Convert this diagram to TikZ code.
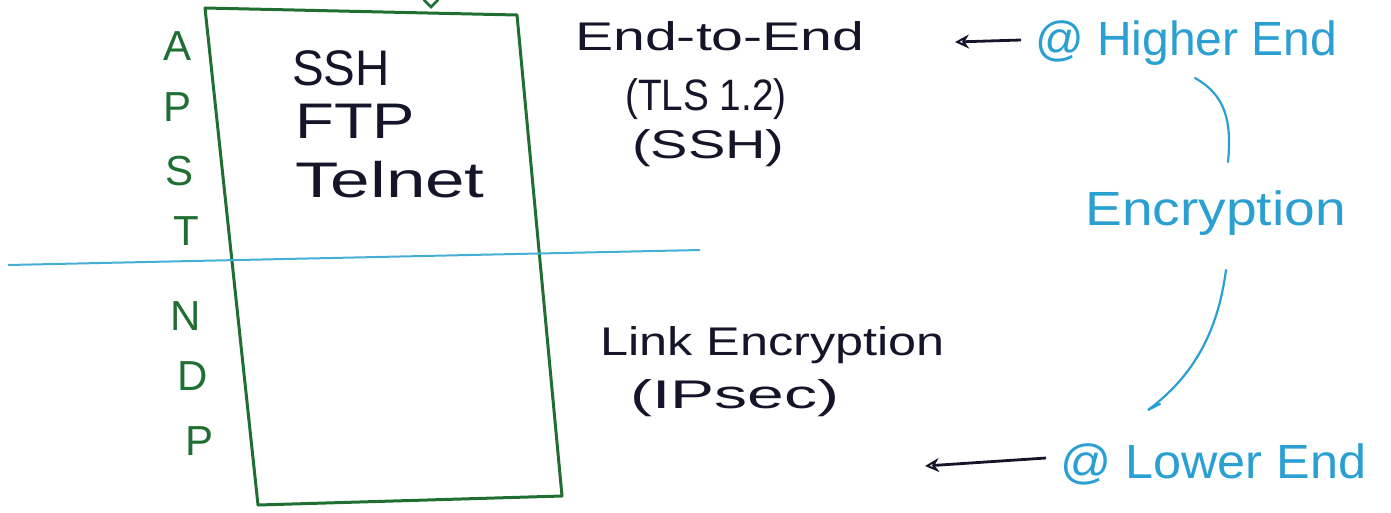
\documentclass[tikz,border=0pt]{standalone}
\usepackage{fontspec}
\usepackage{graphicx}
\setmainfont{Liberation Sans}
\usetikzlibrary{arrows.meta}
\definecolor{pengreen}{HTML}{1F6F33}
\definecolor{penblue}{HTML}{2A9FD2}
\definecolor{lineblue}{HTML}{45AED6}
\definecolor{penink}{HTML}{15152A}
\newcommand\hw[2]{\scalebox{#1}[1]{#2}}
\tikzset{
  layer/.style={anchor=base, text=pengreen, inner sep=0pt, font=\fontsize{42}{46}\selectfont},
  proto/.style={anchor=base west, text=penink, inner sep=0pt, font=\fontsize{50}{56}\selectfont},
  note/.style={anchor=base west, text=penink, inner sep=0pt, font=\fontsize{40}{44}\selectfont},
  bluenote/.style={anchor=base west, text=penblue, inner sep=0pt, font=\fontsize{48}{52}\selectfont},
  frame/.style={draw=pengreen, line width=3pt, line join=round, line cap=round},
  split/.style={draw=lineblue, line width=2pt},
  pointer/.style={draw=penink, line width=2.8pt, -{Stealth[length=14pt,width=14pt,open,line width=2pt]}},
  curl/.style={draw=penblue, line width=2.2pt, line cap=round}
}
\begin{document}
\begin{tikzpicture}[x=1pt,y=-1pt]
\useasboundingbox (0,0) rectangle (1391,512);

% the stack box, hand drawn slightly askew
\coordinate (tl) at (205,8);
\coordinate (tr) at (517,15);
\coordinate (br) at (562,496);
\coordinate (bl) at (258,505);
\draw[frame] (tl) -- (tr) -- (br) -- (bl) -- cycle;
\draw[pengreen, line width=2.5pt, line cap=round] (424,0) -- (431,7) -- (438,0);

% boundary between upper and lower layers
\coordinate (sl) at (8,265);
\coordinate (sr) at (700,250);
\draw[split] (sl) -- (sr);

% layer initials
\node[layer] (lA) at (178,60) {A};
\node[layer] (lP) at (178,121) {P};
\node[layer] (lS) at (180,185) {S};
\node[layer] (lT) at (186,245) {T};
\node[layer] (lN) at (186,330) {N};
\node[layer] (lD) at (193,390) {D};
\node[layer] (lP2) at (200,455) {P};

% protocols inside the box
\node[proto] (ssh) at (292,85) {\hw{0.95}{SSH}};
\node[proto] (ftp) at (295,138) {\hw{1.27}{FTP}};
\node[proto] (telnet) at (295,197) {\hw{1.42}{Telnet}};

% encryption notes
\node[note] (e2e) at (575,50) {\hw{1.43}{End-to-End}};
\node[note, font=\fontsize{44}{48}\selectfont] (tls) at (625,110) {\hw{0.88}{(TLS 1.2)}};
\node[note] (sshn) at (632,158) {\hw{1.4}{(SSH)}};
\node[note] (link) at (600,355) {\hw{1.26}{Link Encryption}};
\node[note] (ipsec) at (630,408) {\hw{1.65}{(IPsec)}};

% blue side notes
\node[bluenote] (high) at (1035,55) {\hw{1.0}{@ Higher End}};
\node[bluenote] (enc) at (1085,225) {\hw{1.15}{Encryption}};
\node[bluenote] (low) at (1060,478) {\hw{1.05}{@ Lower End}};

% arrows pointing back at the notes
\coordinate (hitip) at (955,42);
\coordinate (lotip) at (925,466);
\draw[pointer] (high.west |- 0,40) ++(-14,0) -- (hitip);
\draw[pointer] (low.west |- 0,458) ++(-14,0) -- (lotip);

% curves linking the blue notes
\coordinate (c1a) at (1195,78);
\coordinate (c1b) at (1228,162);
\coordinate (c2a) at (1226,270);
\coordinate (c2b) at (1148,410);
\draw[curl] (c1a) .. controls (1225,95) and (1232,120) .. (c1b);
\draw[curl] (c2a) .. controls (1218,330) and (1195,375) .. (c2b) -- (1160,404);
\end{tikzpicture}
\end{document}
